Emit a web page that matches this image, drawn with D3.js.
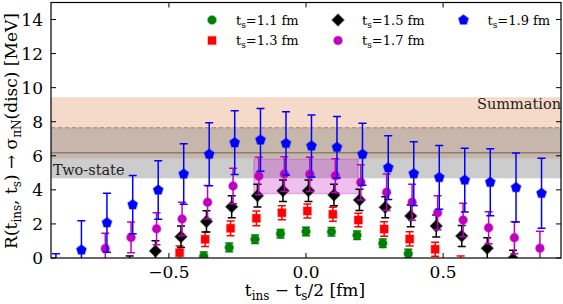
<!DOCTYPE html>
<html><head><meta charset="utf-8">
<script src="https://cdn.jsdelivr.net/npm/d3@7"></script>
<style>body{margin:0;background:#fff}svg{display:block}text{font-family:"DejaVu Serif",serif}</style>
</head><body><svg id="c" width="563" height="304"></svg>
<script>
// ---- data ----
const seriesLabels = ["1.1", "1.3", "1.5", "1.7", "1.9"];
const xGreen = [-0.373,-0.280,-0.186,-0.093,0.000,0.093,0.186,0.280,0.373];
const yGreen = [0.10,0.62,1.10,1.43,1.56,1.54,1.34,0.86,0.26];
const eGreen = [0.25,0.26,0.25,0.25,0.25,0.25,0.25,0.25,0.25];
const xRed = [-0.461,-0.368,-0.275,-0.181,-0.088,0.005,0.098,0.191,0.285,0.378,0.471,0.564];
const yRed = [0.31,1.10,1.74,2.33,2.66,2.76,2.57,2.23,1.70,1.12,0.51,-0.30];
const eRed = [0.40,0.43,0.43,0.43,0.41,0.41,0.41,0.40,0.43,0.42,0.41,0.42];
const xBlack = [-0.643,-0.549,-0.456,-0.363,-0.271,-0.177,-0.084,0.009,0.102,0.195,0.289,0.382,0.475,0.568,0.661,0.755];
const yBlack = [-0.50,0.41,1.25,2.15,3.01,3.66,3.95,3.95,3.70,3.41,2.98,2.47,1.88,1.29,0.57,-0.05];
const eBlack = [0.62,0.60,0.63,0.62,0.65,0.67,0.63,0.63,0.63,0.62,0.62,0.64,0.64,0.62,0.62,0.50];
const xMagenta = [-0.732,-0.638,-0.545,-0.452,-0.359,-0.266,-0.172,-0.079,0.014,0.107,0.200,0.294,0.387,0.480,0.573,0.666,0.760,0.853];
const yMagenta = [0.55,1.21,1.72,2.29,3.27,4.23,4.81,4.93,4.91,4.83,4.44,3.86,3.27,2.66,2.23,1.78,1.19,0.57];
const eMagenta = [0.90,0.90,0.94,0.98,0.98,1.04,1.10,1.02,1.00,1.00,1.04,1.07,1.06,1.00,0.98,0.94,0.94,1.00];
const xBlue = [-0.912,-0.819,-0.726,-0.632,-0.539,-0.446,-0.353,-0.260,-0.166,-0.073,0.020,0.113,0.206,0.300,0.393,0.486,0.579,0.672,0.766,0.859];
const yBlue = [-1.60,0.47,2.07,3.13,3.99,4.93,6.09,6.77,6.93,6.73,6.58,6.50,6.09,5.30,4.95,4.73,4.57,4.45,4.14,3.80];
const eBlue = [1.85,1.72,1.73,1.71,1.72,1.78,1.85,1.87,1.84,1.86,1.82,1.80,1.82,1.87,1.87,1.87,1.87,1.97,2.03,2.05];
// bands: [low, center, high]
const summationBand = [5.85, 7.65, 9.44];
const twoStateBand = [4.68, 6.18, 7.67];
const plateauBox = {x: [-0.19, 0.19], y: [3.78, 5.80]};
const xTicks = [-0.5, 0.0, 0.5];
const yTicks = [0, 2, 4, 6, 8, 10, 12, 14];

// ---- layout ----
const svg = d3.select("#c");
const L = 51, R = 561, T = 2.5, B = 258;
const x = d3.scaleLinear().domain([-0.93, 0.93]).range([L, R]);
const y = d3.scaleLinear().domain([0, 15]).range([B, T]);

svg.append("defs").append("clipPath").attr("id", "clip")
  .append("rect").attr("x", L).attr("y", T).attr("width", R - L).attr("height", B - T);
const g = svg.append("g").attr("clip-path", "url(#clip)");

// summation band
g.append("rect").attr("x", L).attr("width", R - L)
  .attr("y", y(summationBand[2])).attr("height", y(summationBand[0]) - y(summationBand[2]))
  .attr("fill", "rgb(230,150,100)").attr("fill-opacity", 0.35);
g.append("line").attr("x1", L).attr("x2", R).attr("y1", y(summationBand[1])).attr("y2", y(summationBand[1]))
  .attr("stroke", "rgb(215,150,120)").attr("stroke-width", 1.5).attr("stroke-dasharray", "4,3");
// two-state band
g.append("rect").attr("x", L).attr("width", R - L)
  .attr("y", y(twoStateBand[2])).attr("height", y(twoStateBand[0]) - y(twoStateBand[2]))
  .attr("fill", "rgb(128,128,128)").attr("fill-opacity", 0.4);
g.append("line").attr("x1", L).attr("x2", R).attr("y1", y(twoStateBand[1])).attr("y2", y(twoStateBand[1]))
  .attr("stroke", "rgb(140,125,115)").attr("stroke-width", 1.5);
// plateau box
g.append("rect").attr("x", x(plateauBox.x[0])).attr("width", x(plateauBox.x[1]) - x(plateauBox.x[0]))
  .attr("y", y(plateauBox.y[1])).attr("height", y(plateauBox.y[0]) - y(plateauBox.y[1]))
  .attr("fill", "#c000c0").attr("fill-opacity", 0.25)
  .attr("stroke", "#c000c0").attr("stroke-opacity", 0.25).attr("stroke-width", 1.5);

g.append("text").attr("x", 53).attr("y", 175).attr("font-size", 14.5).attr("fill", "#222").text("Two-state");
g.append("text").attr("x", 561).attr("y", 108.5).attr("text-anchor", "end").attr("font-size", 14.5).attr("fill", "#222").text("Summation");

// markers
function pentagon(r) {
  const p = [];
  for (let i = 0; i < 5; i++) { const a = -Math.PI / 2 + i * 2 * Math.PI / 5; p.push([r * Math.cos(a), r * Math.sin(a)]); }
  return "M" + p.map(d => d.join(",")).join("L") + "Z";
}
const shapes = {
  circle: r => `M${-r},0A${r},${r} 0 1,0 ${r},0A${r},${r} 0 1,0 ${-r},0Z`,
  square: r => `M${-r},${-r}H${r}V${r}H${-r}Z`,
  diamond: r => `M0,${-r}L${r},0L0,${r}L${-r},0Z`,
  pentagon: r => pentagon(r)
};
const series = [
  {xs: xGreen, ys: yGreen, es: eGreen, color: "#008000", shape: "circle", r: 4.3, cap: 4},
  {xs: xRed, ys: yRed, es: eRed, color: "#ff0000", shape: "square", r: 4, cap: 4},
  {xs: xBlack, ys: yBlack, es: eBlack, color: "#000000", shape: "diamond", r: 6, cap: 4},
  {xs: xMagenta, ys: yMagenta, es: eMagenta, color: "#c000c0", shape: "circle", r: 4.3, cap: 4},
  {xs: xBlue, ys: yBlue, es: eBlue, color: "#0000ff", shape: "pentagon", r: 5.2, cap: 4}
];
series.forEach((s, si) => {
  const pts = s.xs.map((xv, i) => ({x: xv, y: s.ys[i], e: s.es[i]}));
  const sg = g.append("g");
  const eb = sg.selectAll("g.eb").data(pts).enter().append("g").attr("stroke", s.color).attr("stroke-width", 1.5);
  eb.append("line").attr("x1", d => x(d.x)).attr("x2", d => x(d.x)).attr("y1", d => y(d.y - d.e)).attr("y2", d => y(d.y + d.e));
  eb.append("line").attr("x1", d => x(d.x) - s.cap).attr("x2", d => x(d.x) + s.cap).attr("y1", d => y(d.y + d.e)).attr("y2", d => y(d.y + d.e));
  eb.append("line").attr("x1", d => x(d.x) - s.cap).attr("x2", d => x(d.x) + s.cap).attr("y1", d => y(d.y - d.e)).attr("y2", d => y(d.y - d.e));
  sg.selectAll("path").data(pts).enter().append("path")
    .attr("transform", d => `translate(${x(d.x)},${y(d.y)})`)
    .attr("d", shapes[s.shape](s.r)).attr("fill", s.color)
    .attr("stroke", s.color).attr("stroke-opacity", 0.35).attr("stroke-width", 1.5);
});

// frame and ticks
const ax = svg.append("g");
ax.append("rect").attr("x", L).attr("y", T).attr("width", R - L).attr("height", B - T)
  .attr("fill", "none").attr("stroke", "#000").attr("stroke-width", 1.2);
const tl = 5;
yTicks.forEach(v => {
  ax.append("line").attr("x1", L).attr("x2", L + tl).attr("y1", y(v)).attr("y2", y(v)).attr("stroke", "#000");
  ax.append("line").attr("x1", R).attr("x2", R - tl).attr("y1", y(v)).attr("y2", y(v)).attr("stroke", "#000");
  ax.append("text").attr("x", L - 8).attr("y", y(v)).attr("dy", "0.36em").attr("text-anchor", "end")
    .attr("font-size", 17).text(v);
});
xTicks.forEach(v => {
  ax.append("line").attr("x1", x(v)).attr("x2", x(v)).attr("y1", B).attr("y2", B - tl).attr("stroke", "#000");
  ax.append("line").attr("x1", x(v)).attr("x2", x(v)).attr("y1", T).attr("y2", T + tl).attr("stroke", "#000");
  ax.append("text").attr("x", x(v)).attr("y", 278).attr("text-anchor", "middle")
    .attr("font-size", 17).text(d3.format(".1f")(v).replace("-", "\u2212"));
});

// axis labels
const xl = svg.append("text").attr("x", 305).attr("y", 296).attr("text-anchor", "middle").attr("font-size", 17);
xl.append("tspan").text("t");
xl.append("tspan").attr("font-size", 12).attr("dy", 4).text("ins");
xl.append("tspan").attr("dy", -4).text(" \u2212 t");
xl.append("tspan").attr("font-size", 12).attr("dy", 4).text("s");
xl.append("tspan").attr("dy", -4).text("/2 [fm]");

const yl = svg.append("text").attr("transform", "translate(17,131) rotate(-90)").attr("text-anchor", "middle").attr("font-size", 17);
yl.append("tspan").text("R(t");
yl.append("tspan").attr("font-size", 12).attr("dy", 4).text("ins");
yl.append("tspan").attr("dy", -4).text(", t");
yl.append("tspan").attr("font-size", 12).attr("dy", 4).text("s");
yl.append("tspan").attr("dy", -4).text(") \u2192 \u03c3");
yl.append("tspan").attr("font-size", 12).attr("dy", 4).text("\u03c0N");
yl.append("tspan").attr("dy", -4).text("(disc) [MeV]");

// legend
const legPos = [[212, 20], [212, 40.5], [338, 20], [338, 40.5], [463.5, 20]];
series.forEach((s, i) => {
  const [lx, ly] = legPos[i];
  svg.append("path").attr("transform", `translate(${lx},${ly})`).attr("d", shapes[s.shape](s.r))
    .attr("fill", s.color).attr("stroke", s.color).attr("stroke-opacity", 0.35).attr("stroke-width", 1.5);
  const t = svg.append("text").attr("x", lx + 24).attr("y", ly + 4.5).attr("font-size", 13);
  t.append("tspan").text("t");
  t.append("tspan").attr("font-size", 9).attr("dy", 3).text("s");
  t.append("tspan").attr("dy", -3).text("=" + seriesLabels[i] + " fm");
});
</script></body></html>
